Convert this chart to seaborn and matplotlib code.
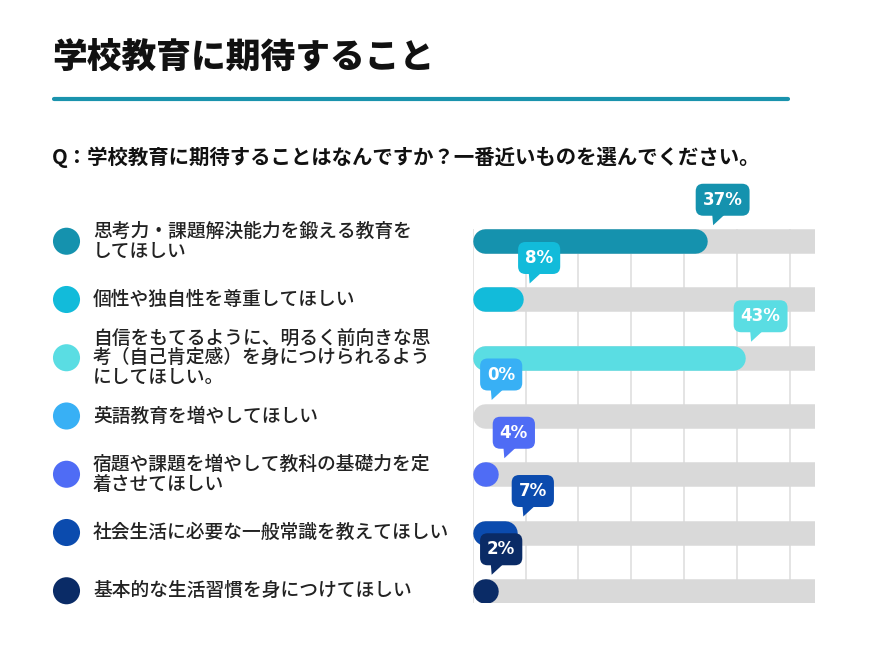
import numpy as np
import pandas as pd
import matplotlib
matplotlib.use("Agg")
import matplotlib.pyplot as plt
import matplotlib.transforms as mtransforms
from matplotlib.patches import Polygon
from matplotlib.lines import Line2D
import seaborn as sns

# データ
title = "学校教育に期待すること"
question = "Q：学校教育に期待することはなんですか？一番近いものを選んでください。"
labels = [
    "思考力・課題解決能力を鍛える教育を\nしてほしい",
    "個性や独自性を尊重してほしい",
    "自信をもてるように、明るく前向きな思\n考（自己肯定感）を身につけられるよう\nにしてほしい。",
    "英語教育を増やしてほしい",
    "宿題や課題を増やして教科の基礎力を定\n着させてほしい",
    "社会生活に必要な一般常識を教えてほしい",
    "基本的な生活習慣を身につけてほしい",
]
values = [37, 8, 43, 0, 4, 7, 2]
colors = ["#1592ae", "#12bbda", "#5adde3", "#38b0f5", "#4f6cf5", "#0b4bae", "#0a2b66"]

df = pd.DataFrame({"label": labels, "value": values, "color": colors})
pos = np.arange(len(df))

# 見た目の設定
sns.set_theme(style="white")
plt.rcParams['font.family'] = ['Noto Sans CJK JP', 'DejaVu Sans']

W, H = 870, 651
fig = plt.figure(figsize=(W / 100, H / 100), dpi=100)

top_px, bot_px = 229, 603
ax = fig.add_axes([472.7 / W, 1 - bot_px / H, (815 - 472.7) / W, (bot_px - top_px) / H])
ax_lab = fig.add_axes([0, 1 - bot_px / H, 470 / W, (bot_px - top_px) / H])

xmax = 54.1
ax.set_xlim(0, xmax)
ax.set_ylim(len(df) - 1 + 0.21, -0.21)

px_per_unit = (815 - 472.7) / xmax
bar_px = 24.5
lw = bar_px * 0.72
r = bar_px / 2 / px_per_unit

# グリッド
ax.set_xticks(np.arange(7) * 8.35)
ax.set_yticks([])
ax.tick_params(labelbottom=False, length=0)
ax.grid(axis="x", color="#e2e2e2", lw=1.3)
ax.grid(axis="y", visible=False)
ax.set_axisbelow(True)
for s in ax.spines.values():
    s.set_visible(False)

# グレーのトラック
ax.hlines(pos, r, xmax + 5, colors="#d9d9d9", lw=lw, capstyle="round", zorder=2)

# 値のバー（丸い端）
mask = (df["value"] > 0).to_numpy()
ends = np.maximum(df["value"].to_numpy() - r, r + 0.15)
ax.hlines(pos[mask], r, ends[mask], colors=df["color"][mask].tolist(), lw=lw,
          capstyle="round", zorder=3)

# 吹き出し
for p, v, c in zip(pos, df["value"], df["color"]):
    tip_x = max(v, 2) + 1.0
    tr = fig.dpi_scale_trans + mtransforms.ScaledTranslation(tip_x, p, ax.transData)
    tail = Polygon([(0, 0.16), (-0.01, 0.28), (0.13, 0.28)], closed=True,
                   transform=tr, fc=c, ec="none", clip_on=False, zorder=5)
    ax.add_patch(tail)
    ax.annotate(f"{v}%", xy=(tip_x, p), xycoords="data",
                xytext=(9.5 * 0.72, 41.5 * 0.72), textcoords="offset points",
                ha="center", va="center", fontsize=12, fontweight="bold",
                family="DejaVu Sans", color="white", annotation_clip=False, zorder=6,
                bbox=dict(boxstyle="round,pad=0.42,rounding_size=0.45", fc=c, ec="none"))

# 左側の凡例ドットとラベル
sns.scatterplot(x=np.full(len(df), 66.5), y=pos, hue=df["label"],
                palette=dict(zip(labels, colors)), s=380, edgecolor="none",
                legend=False, ax=ax_lab, clip_on=False)
ax_lab.set_xlim(0, 470)
ax_lab.set_ylim(len(df) - 1 + 0.21, -0.21)
ax_lab.axis("off")
for p, lab in zip(pos, df["label"]):
    ax_lab.text(93, p, lab, ha="left", va="center", fontsize=13.5, fontweight="medium",
                color="#222222", linespacing=1.05)

# タイトルと見出し
fig.text(52 / W, 1 - 58 / H, title, fontsize=25, fontweight="heavy",
         color="#111111", ha="left", va="center")
fig.add_artist(Line2D([54 / W, 788 / W], [1 - 99 / H] * 2, transform=fig.transFigure,
                      color="#1a93ad", lw=3, solid_capstyle="round"))
fig.text(52 / W, 1 - 157 / H, question, fontsize=14.7, fontweight="bold",
         color="#111111", ha="left", va="center")

fig.savefig("out.png", dpi=100)
